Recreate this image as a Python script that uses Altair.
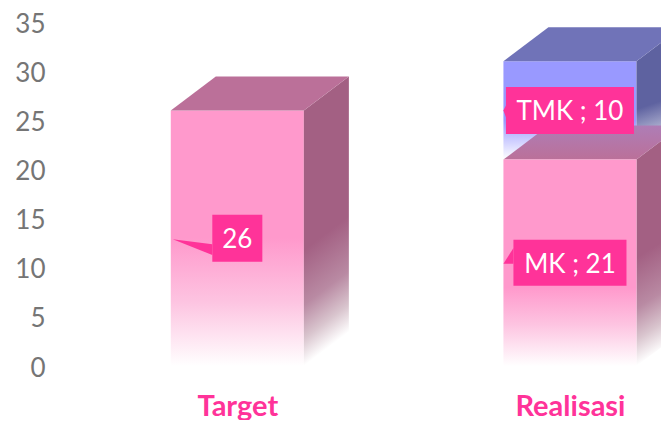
import altair as alt
import pandas as pd

categories = ["Target", "Realisasi"]
target_values = [26]
mk_values = [21]
tmk_values = [10]

FONT = "Lato"
PINK = "#FF3399"
HALF = 0.2
DX = 45 / 332.5
DY = 34 / 9.83
PXX = 1 / 332.5
PXY = 1 / 9.83


def grad(stops, slanted=False):
    g = {"gradient": "linear", "x1": 0, "y1": 0, "x2": 0, "y2": 1,
         "stops": [{"offset": o, "color": c} for o, c in stops]}
    if slanted:
        g.update({"x2": 0.116, "y2": 0.986})
    return g


X = alt.X("x:Q", scale=alt.Scale(domain=[-0.5, 1.2737], nice=False, zero=False),
          axis=alt.Axis(values=[0, 1], title=None, domain=False, ticks=False, grid=False,
                        labelExpr="datum.value == 0 ? 'Target' : 'Realisasi'",
                        labelFont=FONT, labelFontSize=29, labelFontWeight="bold",
                        labelColor=PINK, labelPadding=40, labelBaseline="middle", labelAngle=0))
Y = alt.Y("y:Q", scale=alt.Scale(domain=[0, 35], nice=False),
          axis=alt.Axis(values=list(range(0, 40, 5)), title=None, domain=False, ticks=False, grid=False,
                        labelFont=FONT, labelFontSize=26, labelColor="#757575",
                        labelPadding=26, labelOffset=2, labelBaseline="middle"))


def front(cx, lo, hi, g):
    df = pd.DataFrame({"x": [cx - HALF], "x2": [cx + HALF], "y": [hi], "y2": [lo]})
    return alt.Chart(df).mark_rect(color=g, clip=True).encode(x=X, x2="x2:Q", y=Y, y2="y2:Q")


def side(cx, lo, hi, g):
    r = cx + HALF
    df = pd.DataFrame({"x": [r, r + DX], "y": [hi, hi + DY], "y2": [lo, lo + DY]})
    return alt.Chart(df).mark_area(color=g, clip=True).encode(x=X, y=Y, y2="y2:Q")


def top(cx, hi, g):
    l, r = cx - HALF, cx + HALF
    df = pd.DataFrame({"x": [l, l + DX], "x2": [r, r + DX], "y": [hi, hi + DY]})
    return alt.Chart(df).mark_area(color=g, orient="horizontal", clip=True).encode(x=X, x2="x2:Q", y=Y)


def label(cx, cy, text, w, h, tip_x, tip_y, upper, lower):
    """Callout centred on a data point; sizes are given in pixels."""
    left = cx - w / 2 * PXX
    box = pd.DataFrame({"x": [left], "x2": [cx + w / 2 * PXX],
                        "y": [cy + h / 2 * PXY], "y2": [cy - h / 2 * PXY]})
    tail = pd.DataFrame({"x": [tip_x, left], "y": [tip_y, upper], "y2": [tip_y, lower]})
    txt = pd.DataFrame({"x": [cx], "y": [cy], "t": [text]})
    return (
        alt.Chart(tail).mark_area(color=PINK, clip=True).encode(x=X, y=Y, y2="y2:Q")
        + alt.Chart(box).mark_rect(color=PINK, clip=True).encode(x=X, x2="x2:Q", y=Y, y2="y2:Q")
        + alt.Chart(txt).mark_text(font=FONT, fontSize=26, color="white", dy=2).encode(x=X, y=Y, text="t:N")
    )


t, mk, tmk = target_values[0], mk_values[0], tmk_values[0]
c0, c1 = 0, 1

FRONT_PINK_T = grad([(0, "#FF99CC"), (0.5, "#FF99CC"), (0.75, "#FDC4E1"), (1, "#FFFFFF")])
FRONT_PINK_M = grad([(0, "#FF99CC"), (0.62, "#FF99CC"), (0.8, "#FDC4E1"), (1, "#FFFFFF")])
FRONT_BLUE = grad([(0, "#9999FF"), (0.6, "#9999FF"), (1, "#FFFFFF")])
SIDE_PINK_T = grad([(0, "#A36083"), (0.6, "#A36083"), (0.79, "#B98AA3"), (0.906, "#D9C5CE"), (1, "#FFFFFF")], True)
SIDE_PINK_M = grad([(0, "#A36083"), (0.55, "#A36083"), (0.76, "#B98AA3"), (0.89, "#D9C5CE"), (1, "#FFFFFF")], True)
SIDE_BLUE = grad([(0, "#5E62A0"), (0.62, "#5E62A0"), (1, "#F2F2F8")], True)
TOP_MK = grad([(0, "#AE7DB6"), (1, "#BB7099")])

chart = alt.layer(
    front(c0, 0, t, FRONT_PINK_T),
    side(c0, 0, t, SIDE_PINK_T),
    top(c0, t, "#BB7099"),
    front(c1, mk, mk + tmk, FRONT_BLUE),
    side(c1, mk, mk + tmk, SIDE_BLUE),
    top(c1, mk + tmk, "#7073B8"),
    side(c1, 0, mk, SIDE_PINK_M),
    top(c1, mk, TOP_MK),
    front(c1, 0, mk, FRONT_PINK_M),
    label(c0, t / 2, str(t), 50, 47, c0 - HALF + 2 * PXX, 12.9, 12.4, 11.3),
    label(c1, mk + tmk / 2, f"TMK ; {tmk}", 128, 47, c1 - HALF, 26, 26.5, 25.3),
    label(c1, mk / 2, f"MK ; {mk}", 113, 46, c1 - HALF, 10.4, 12, 10.4),
).properties(
    width=590,
    height=344,
    padding={"left": 63, "top": 14, "right": 0, "bottom": 54},
    autosize=alt.AutoSizeParams(type="none"),
    background="white",
).configure_view(stroke=None)

chart.save("out.html", embed_options={"renderer": "svg", "actions": False})
